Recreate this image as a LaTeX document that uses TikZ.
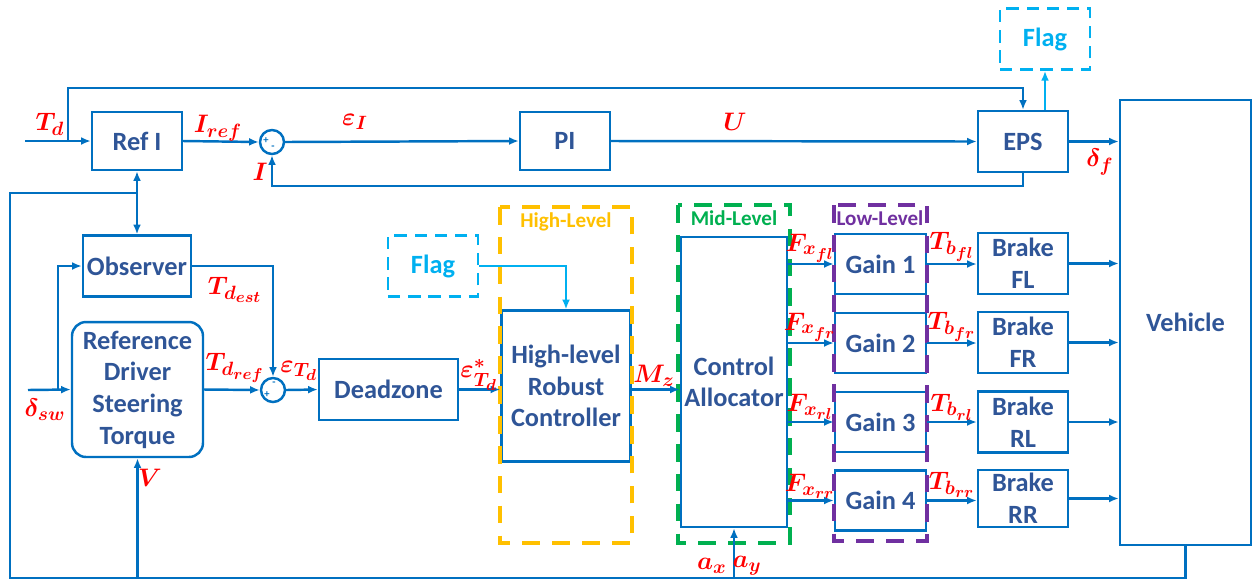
\documentclass[tikz,border=0pt]{standalone}
\usepackage{amsmath,amssymb}
\usepackage{fontspec}
\usepackage{bm}
\setmainfont{Carlito}
\usetikzlibrary{arrows.meta,positioning,calc}
\DeclareMathSizes{15}{15}{11}{9}
\definecolor{linecol}{HTML}{0070C0}
\definecolor{txtcol}{HTML}{2F5597}
\definecolor{flagcol}{HTML}{00B0F0}
\definecolor{hicol}{HTML}{FFC000}
\definecolor{midcol}{HTML}{00B050}
\definecolor{lowcol}{HTML}{7030A0}

\begin{document}
\begin{tikzpicture}[x=0.02cm,y=-0.02cm,
    blk/.style={draw=linecol,line width=1.4pt,inner sep=0pt,text=txtcol,font=\fontsize{15}{18}\selectfont\bfseries,align=center},
    flagbox/.style={draw=flagcol,line width=1.6pt,dash pattern=on 7pt off 4.5pt,inner sep=0pt,text=flagcol,font=\fontsize{15}{18}\selectfont\bfseries,minimum width=1.8cm,minimum height=1.22cm},
    sumj/.style={draw=linecol,line width=1.4pt,circle,minimum size=0.48cm,inner sep=0pt},
    sgn/.style={text=linecol,font=\fontsize{6}{6}\selectfont\bfseries,inner sep=0pt},
    sig/.style={text=red,font=\fontsize{15}{15}\selectfont,inner sep=0pt},
    grp/.style={line width=2.4pt,dash pattern=on 10pt off 7pt},
    grplbl/.style={font=\fontsize{12}{12}\selectfont\bfseries,inner sep=0pt},
    wire/.style={draw=linecol,line width=1.4pt},
    arr/.style={wire,-{Latex[length=5.5pt,width=4.5pt]}},
]
    \useasboundingbox (0,0) rectangle (1259,583);

    % Steering loop
    \node[blk,minimum width=1.8cm,minimum height=1.16cm] (refI) at (137,141) {Ref I};
    \node[blk,minimum width=1.8cm,minimum height=1.16cm] (pi) at (565,141) {PI};
    \node[blk,minimum width=1.8cm,minimum height=1.22cm] (eps) at (1023,141.5) {EPS};
    \node[flagbox] (flagT) at (1045,39) {Flag};
    \node[sumj] (s1) at (272,142) {};
    \node[sgn] (s1p) at (266,141) {+};
    \node[sgn] (s1m) at (273,148) {-};

    % Driver torque estimation
    \node[blk,minimum width=2.16cm,minimum height=1.22cm] (obs) at (137,266) {Observer};
    \node[blk,rounded corners=8pt,minimum width=2.62cm,minimum height=2.7cm] (rds) at (137.5,389.5) {Reference\\Driver\\Steering\\Torque};
    \node[sumj] (s2) at (273,390) {};
    \node[sgn] (s2m) at (274,384) {-};
    \node[sgn] (s2p) at (267,395) {+};
    \node[blk,minimum width=2.78cm,minimum height=1.22cm] (dz) at (388.5,389.5) {Deadzone};

    % High / mid / low level
    \node[flagbox] (flagL) at (433,266) {Flag};
    \node[blk,minimum width=2.58cm,minimum height=3.02cm] (hlc) at (566,386) {High-level\\Robust\\Controller};
    \node[blk,minimum width=2.12cm,minimum height=5.8cm] (ca) at (734,382) {Control\\Allocator};
    \node[blk,minimum width=1.82cm,minimum height=1.2cm] (g1) at (880.5,264) {Gain 1};
    \node[blk,minimum width=1.82cm,minimum height=1.2cm] (g2) at (880.5,343) {Gain 2};
    \node[blk,minimum width=1.82cm,minimum height=1.2cm] (g3) at (880.5,422) {Gain 3};
    \node[blk,minimum width=1.82cm,minimum height=1.2cm] (g4) at (880.5,500.5) {Gain 4};
    \node[blk,minimum width=1.8cm,minimum height=1.22cm] (b1) at (1023,263.5) {Brake\\FL};
    \node[blk,minimum width=1.8cm,minimum height=1.22cm] (b2) at (1023,342.5) {Brake\\FR};
    \node[blk,minimum width=1.8cm,minimum height=1.22cm] (b3) at (1023,422) {Brake\\RL};
    \node[blk,minimum width=1.8cm,minimum height=1.14cm] (b4) at (1023,498.5) {Brake\\RR};
    \node[blk,minimum width=2.62cm,minimum height=8.9cm] (veh) at (1185.5,322.5) {Vehicle};

    % Group frames
    \draw[grp,hicol] (500,207) rectangle (632,543);
    \draw[grp,midcol] (678,205) rectangle (790,543);
    \draw[grp,lowcol] (834,205) rectangle (927,541);
    \node[grplbl,text=hicol] (hiL) at (566,222) {High-Level};
    \node[grplbl,text=midcol] (midL) at (734,218) {Mid-Level};
    \node[grplbl,text=lowcol] (lowL) at (880,218) {Low-Level};

    % Free ends and bends
    \coordinate (tdin) at (25,141);
    \coordinate (tdb) at (68,141);
    \coordinate (topl) at (68,88);
    \coordinate (swin) at (28,390);
    \coordinate (swb) at (58,390);
    \coordinate (bot) at (10,578);
    \coordinate (fbk) at (137,193);

    % Connectors
    \draw[arr] (tdin) -- (refI.west);
    \draw[arr] (tdb) -- (topl) -| (eps.north);
    \draw[arr] (refI.east) -- (s1.west);
    \draw[arr] (s1.east) -- (pi.west);
    \draw[arr] (pi.east) -- (eps.west);
    \draw[arr] (eps.east) -- (eps.east -| veh.west);
    \draw[arr,draw=flagcol] (flagT.south |- eps.north) -- (flagT.south);
    \draw[arr] (eps.south) -- ++(0,13) -| (s1.south);
    \draw[wire] (veh.south) |- (bot) |- (fbk);
    \draw[wire,{Latex[length=5.5pt,width=4.5pt]}-{Latex[length=5.5pt,width=4.5pt]}] (refI.south) -- (obs.north);
    \draw[arr] (rds.south |- bot) -- (rds.south);
    \draw[arr] (ca.south |- bot) -- (ca.south);
    \draw[arr] (swin) -- (rds.west);
    \draw[arr] (swb) |- (obs.west);
    \draw[arr] (obs.east) -| (s2.north);
    \draw[arr] (rds.east) -- (s2.west);
    \draw[arr] (s2.east) -- (dz.west);
    \draw[arr] (dz.east) -- (dz.east -| hlc.west);
    \draw[arr,draw=flagcol,line width=1pt] (flagL.east) -| (hlc.north);
    \draw[arr] (hlc.east |- dz.east) -- (ca.west |- dz.east);
    \draw[arr] (ca.east |- g1.west) -- (g1.west);
    \draw[arr] (ca.east |- g2.west) -- (g2.west);
    \draw[arr] (ca.east |- g3.west) -- (g3.west);
    \draw[arr] (ca.east |- g4.west) -- (g4.west);
    \draw[arr] (g1.east) -- (g1.east -| b1.west);
    \draw[arr] (g2.east) -- (g2.east -| b2.west);
    \draw[arr] (g3.east) -- (g3.east -| b3.west);
    \draw[arr] (g4.east) -- (g4.east -| b4.west);
    \draw[arr] (b1.east) -- (b1.east -| veh.west);
    \draw[arr] (b2.east) -- (b2.east -| veh.west);
    \draw[arr] (b3.east) -- (b3.east -| veh.west);
    \draw[arr] (b4.east) -- (b4.east -| veh.west);

    % Signal labels
    \node[sig] (lTd) at (50,124) {$\bm{T_d}$};
    \node[sig] (lIref) at (218,128) {$\bm{I_{ref}}$};
    \node[sig] (lI) at (260,172) {$\bm{I}$};
    \node[sig] (leI) at (355,122) {$\bm{\varepsilon_I}$};
    \node[sig] (lU) at (735,122) {$\bm{U}$};
    \node[sig] (ldf) at (1100,162) {$\bm{\delta_f}$};
    \node[sig] (lTest) at (235,290) {$\bm{T_{d_{est}}}$};
    \node[sig] (lTref) at (235,368) {$\bm{T_{d_{ref}}}$};
    \node[sig] (leT) at (299,371) {$\bm{\varepsilon_{T_d}}$};
    \node[sig] (leTs) at (479,375) {$\bm{\varepsilon^{*}_{T_d}}$};
    \node[sig] (ldsw) at (45,410) {$\bm{\delta_{sw}}$};
    \node[sig] (lV) at (150,478) {$\bm{V}$};
    \node[sig] (lMz) at (654,376) {$\bm{M_z}$};
    \node[sig] (lF1) at (810,248) {$\bm{F_{x_{fl}}}$};
    \node[sig] (lF2) at (810,327) {$\bm{F_{x_{fr}}}$};
    \node[sig] (lF3) at (810,407) {$\bm{F_{x_{rl}}}$};
    \node[sig] (lF4) at (810,486) {$\bm{F_{x_{rr}}}$};
    \node[sig] (lT1) at (952,247) {$\bm{T_{b_{fl}}}$};
    \node[sig] (lT2) at (952,327) {$\bm{T_{b_{fr}}}$};
    \node[sig] (lT3) at (952,407) {$\bm{T_{b_{rl}}}$};
    \node[sig] (lT4) at (952,485) {$\bm{T_{b_{rr}}}$};
    \node[sig] (lax) at (712,566) {$\bm{a_x}$};
    \node[sig] (lay) at (747,566) {$\bm{a_y}$};
\end{tikzpicture}
\end{document}
